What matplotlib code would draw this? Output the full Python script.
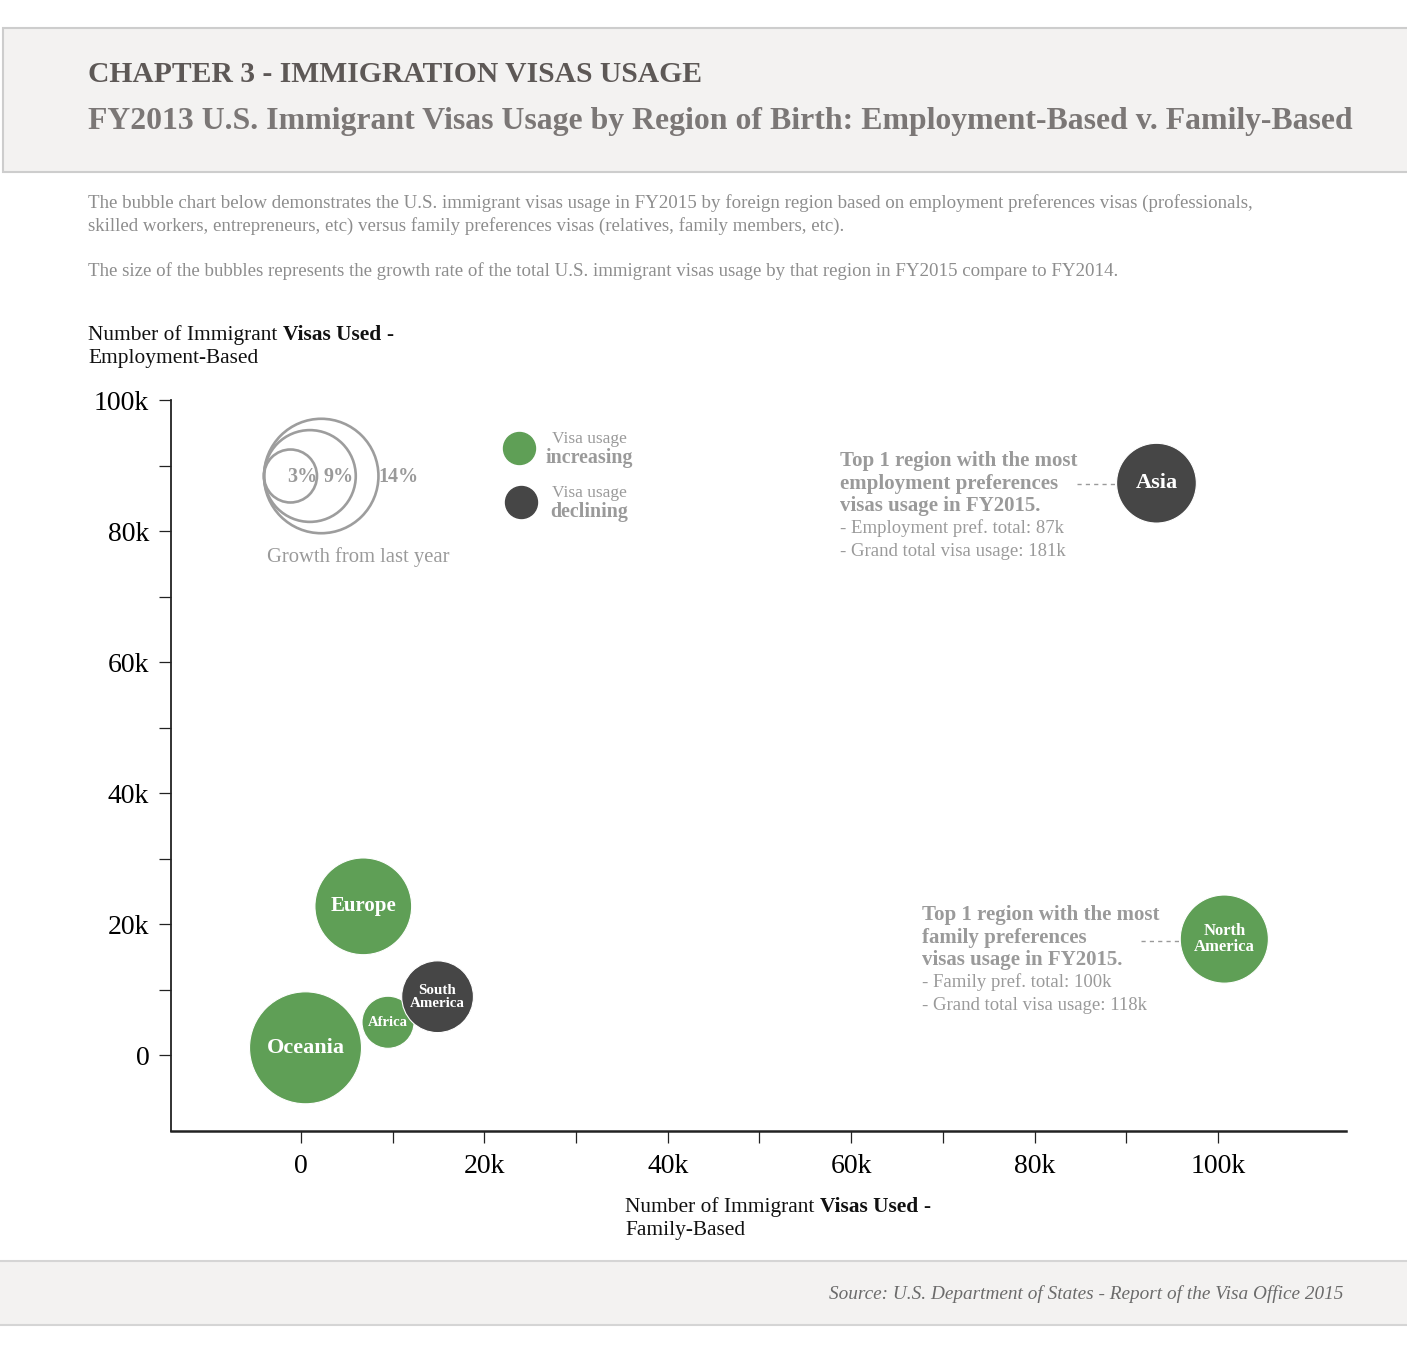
import matplotlib
matplotlib.use("Agg")
import matplotlib.pyplot as plt
from matplotlib.patches import Rectangle
import numpy as np

# ---------------- data ----------------
regions = ["Asia", "North\nAmerica", "Europe", "Oceania", "Africa", "South\nAmerica"]
family_based = [93300, 100700, 6800, 500, 9500, 14900]
employment_based = [87300, 17700, 22700, 1100, 5000, 8900]
growth_pct = [-6.8, 8.3, 10.0, 13.4, 2.9, -5.5]
legend_growth = [3, 9, 14]
legend_growth_labels = ["3%", "9%", "14%"]
x_ticks = [0, 20000, 40000, 60000, 80000, 100000]
x_tick_labels = ["0", "20k", "40k", "60k", "80k", "100k"]
x_minor_ticks = [10000, 30000, 50000, 70000, 90000]
y_ticks = [0, 20000, 40000, 60000, 80000, 100000]
y_tick_labels = ["0", "20k", "40k", "60k", "80k", "100k"]
y_minor_ticks = [10000, 30000, 50000, 70000, 90000]

# ---------------- style ----------------
W, H = 1407, 1350
plt.rcParams['font.family'] = ['Liberation Serif', 'DejaVu Serif']
GREEN = "#5f9f56"
DARK = "#464646"
GREY_TXT = "#9a9a9a"
SIZE_PER_PCT = 485.0  # marker area (pt^2) per growth percentage point
label_sizes = {"Asia": 16, "North\nAmerica": 12, "Europe": 15, "Oceania": 16,
               "Africa": 10.5, "South\nAmerica": 10.8}

fig = plt.figure(figsize=(W / 100, H / 100), dpi=100)
fig.patch.set_facecolor("white")

# ---------------- main axes ----------------
ax = fig.add_axes([171 / W, 1 - 1131 / H, (1346 - 171) / W, (1131 - 400) / H])
ax.set_facecolor("none")
ax.set_xlim(-14170, 113970)
ax.set_ylim(-11600, 100000)
for sp in ["top", "right"]:
    ax.spines[sp].set_visible(False)
ax.spines["left"].set_linewidth(1.3)
ax.spines["bottom"].set_linewidth(1.8)
ax.spines["left"].set_color("#222222")
ax.spines["bottom"].set_color("#222222")

ax.set_xticks(x_ticks, x_tick_labels)
ax.set_xticks(x_minor_ticks, minor=True)
ax.set_yticks(y_ticks, y_tick_labels)
ax.set_yticks(y_minor_ticks, minor=True)
ax.tick_params(axis="both", which="both", direction="out", length=8.6, width=0.9, color="#222222")
ax.tick_params(axis="x", which="major", labelsize=20, pad=8)
ax.tick_params(axis="y", which="major", labelsize=20, pad=7)

colors = [GREEN if g >= 0 else DARK for g in growth_pct]
sizes = [SIZE_PER_PCT * abs(g) for g in growth_pct]
ax.scatter(family_based, employment_based, s=sizes, c=colors, edgecolors="white",
           linewidths=0.8, zorder=3, clip_on=False)
for name, xv, yv in zip(regions, family_based, employment_based):
    ax.text(xv, yv, name, ha="center", va="center", color="white", fontweight="bold",
            fontsize=label_sizes[name], linespacing=1.0, zorder=4)

# ---------------- overlay (pixel coordinates) ----------------
ov = fig.add_axes([0, 0, 1, 1])
ov.set_xlim(0, W)
ov.set_ylim(H, 0)
ov.axis("off")
ov.patch.set_alpha(0)

ov.add_patch(Rectangle((3, 28), 1420, 144, fc="#f3f2f1", ec="#cdcdcd", lw=1.5, zorder=0))
ov.add_patch(Rectangle((-5, 1261), 1420, 64, fc="#f3f2f1", ec="#d5d5d5", lw=1.5, zorder=0))

ov.text(88, 75, "CHAPTER 3 - IMMIGRATION VISAS USAGE", fontsize=21.3, fontweight="bold",
        color="#5d5856", va="center", ha="left")
ov.text(88, 121, "FY2013 U.S. Immigrant Visas Usage by Region of Birth: Employment-Based v. Family-Based",
        fontsize=22.9, fontweight="bold", color="#7b7776", va="center", ha="left")

desc_color = "#8d8d8d"
ov.text(88, 203, "The bubble chart below demonstrates the U.S. immigrant visas usage in FY2015 by foreign region "
        "based on employment preferences visas (professionals,", fontsize=13.6, color=desc_color,
        va="center", ha="left")
ov.text(88, 226, "skilled workers, entrepreneurs, etc) versus family preferences visas (relatives, family members, etc).",
        fontsize=13.6, color=desc_color, va="center", ha="left")
ov.text(88, 271, "The size of the bubbles represents the growth rate of the total U.S. immigrant visas usage by that "
        "region in FY2015 compare to FY2014.", fontsize=13.6, color=desc_color, va="center", ha="left")

renderer = fig.canvas.get_renderer()


def mixed(x, y, parts, size, color):
    cx = x
    space = None
    for i, (s, w) in enumerate(parts):
        t = ov.text(cx, y, s, fontsize=size, fontweight=w, color=color, va="center", ha="left")
        bb = t.get_window_extent(renderer)
        if space is None:
            a = ov.text(0, 0, "a a", fontsize=size, fontweight=w)
            b = ov.text(0, 0, "aa", fontsize=size, fontweight=w)
            space = a.get_window_extent(renderer).width - b.get_window_extent(renderer).width
            a.remove(); b.remove()
        cx += bb.width + space


mixed(88, 335, [("Number of Immigrant", "normal"), ("Visas Used", "bold"), ("-", "normal")], 15.4, "#111111")
ov.text(88, 358, "Employment-Based", fontsize=15.4, color="#111111", va="center", ha="left")
mixed(625, 1207, [("Number of Immigrant", "normal"), ("Visas Used", "bold"), ("-", "normal")], 15.4, "#111111")
ov.text(625, 1230, "Family-Based", fontsize=15.4, color="#111111", va="center", ha="left")

# size legend (concentric circles tangent at the left)
left_edge, cy = 264, 476
px_per_pt = 100 / 72
for g in legend_growth:
    r_px = np.sqrt(SIZE_PER_PCT * g) / 2 * px_per_pt
    ov.scatter([left_edge + r_px], [cy], s=SIZE_PER_PCT * g, facecolors="none",
               edgecolors="#9d9d9d", linewidths=1.9, zorder=5)
for lab, lx in zip(legend_growth_labels, [302, 339, 398]):
    ov.text(lx, cy + 1, lab, fontsize=14.5, fontweight="bold", color=GREY_TXT, ha="center", va="center")
ov.text(358, 557, "Growth from last year", fontsize=14.9, color=GREY_TXT, ha="center", va="center")

# color legend
ov.scatter([519], [448], s=530, color=GREEN, zorder=5)
ov.scatter([521], [502], s=530, color=DARK, zorder=5)
ov.text(589, 439, "Visa usage", fontsize=12.5, color=GREY_TXT, ha="center", va="center")
ov.text(589, 458, "increasing", fontsize=14.4, fontweight="bold", color=GREY_TXT, ha="center", va="center")
ov.text(589, 493, "Visa usage", fontsize=12.5, color=GREY_TXT, ha="center", va="center")
ov.text(589, 512, "declining", fontsize=14.4, fontweight="bold", color=GREY_TXT, ha="center", va="center")

# annotations
asia_lines = [("Top 1 region with the most", "bold"), ("employment preferences", "bold"),
              ("visas usage in FY2015.", "bold"), ("- Employment pref. total: 87k", "normal"),
              ("- Grand total visa usage: 181k", "normal")]
for i, (s, w) in enumerate(asia_lines):
    ov.text(840, 461 + 22.5 * i, s, fontsize=15 if w == "bold" else 13.5, fontweight=w,
            color=GREY_TXT, ha="left", va="center")
na_lines = [("Top 1 region with the most", "bold"), ("family preferences", "bold"),
            ("visas usage in FY2015.", "bold"), ("- Family pref. total: 100k", "normal"),
            ("- Grand total visa usage: 118k", "normal")]
for i, (s, w) in enumerate(na_lines):
    ov.text(922, 915 + 22.5 * i, s, fontsize=15 if w == "bold" else 13.5, fontweight=w,
            color=GREY_TXT, ha="left", va="center")
ov.plot([1077, 1116], [484, 484], ls=(0, (3, 3)), color="#9a9a9a", lw=1.0)
ov.plot([1141, 1180], [941, 941], ls=(0, (3, 3)), color="#9a9a9a", lw=1.0)

ov.text(1343, 1294, "Source: U.S. Department of States - Report of the Visa Office 2015", fontsize=13.9,
        fontstyle="italic", color="#6b6b6b", ha="right", va="center")

fig.savefig("out.png", dpi=100)
